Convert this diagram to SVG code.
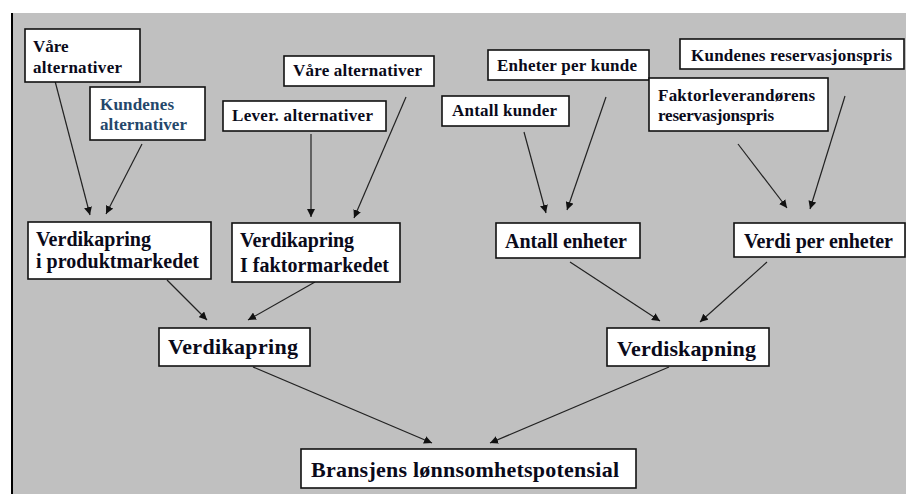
<svg xmlns="http://www.w3.org/2000/svg" width="906" height="494" viewBox="0 0 906 494">
<style>
.box{fill:#fff;stroke:#111;stroke-width:1.6}
.t{font-family:"Liberation Serif","Times New Roman",serif;font-weight:bold;fill:#0a0a1a}
.s{font-size:17px}
.m{font-size:20px}
.l{font-size:22px}
.blue{fill:#24476b}
.c line{stroke:#222;stroke-width:1.2;marker-end:url(#ah)}
</style>
<defs>
<marker id="ah" markerUnits="userSpaceOnUse" markerWidth="9" markerHeight="8" refX="8" refY="4" orient="auto">
<path d="M0,0 L8,4 L0,8 Z" fill="#111"/>
</marker>
</defs>
<rect x="0" y="0" width="906" height="494" fill="#fff"/>
<rect x="12" y="13" width="894" height="481" fill="#c0c0c0"/>
<line x1="12" y1="13" x2="12" y2="494" stroke="#000" stroke-width="2"/>

<g class="c" id="connectors">
<line x1="55" y1="81" x2="90" y2="215"/>
<line x1="142" y1="144" x2="106" y2="214"/>
<line x1="311" y1="134" x2="311" y2="217"/>
<line x1="406" y1="97" x2="354" y2="218"/>
<line x1="524" y1="132" x2="546" y2="213"/>
<line x1="606" y1="97" x2="567" y2="210"/>
<line x1="738" y1="144" x2="787" y2="208"/>
<line x1="845" y1="96" x2="810" y2="209"/>
<line x1="167" y1="280" x2="207" y2="320"/>
<line x1="315" y1="282" x2="248" y2="320"/>
<line x1="570" y1="262" x2="660" y2="321"/>
<line x1="767" y1="262" x2="700" y2="322"/>
<line x1="253" y1="367" x2="432" y2="443"/>
<line x1="669" y1="367" x2="490" y2="443"/>
</g>

<g id="n-vare1"><rect class="box" x="25" y="29" width="115" height="53"/>
<text class="t s" x="33" y="52">Våre</text><text class="t s" x="33" y="73" textLength="89">alternativer</text></g>

<g id="n-kundenes"><rect class="box" x="90" y="87" width="115" height="53"/>
<text class="t s blue" x="100" y="110" textLength="74">Kundenes</text><text class="t s blue" x="100" y="130" textLength="87">alternativer</text></g>

<g id="n-vare2"><rect class="box" x="284" y="56" width="150" height="30"/>
<text class="t s" x="293" y="76" textLength="129">Våre alternativer</text></g>

<g id="n-lever"><rect class="box" x="223" y="101" width="163" height="30"/>
<text class="t s" x="232" y="121" textLength="141">Lever. alternativer</text></g>

<g id="n-vkprodukt"><rect class="box" x="28" y="222" width="183" height="57"/>
<text class="t m" x="36" y="246" textLength="115">Verdikapring</text><text class="t m" x="36" y="268" textLength="163">i produktmarkedet</text></g>

<g id="n-vkfaktor"><rect class="box" x="232" y="223" width="168" height="59"/>
<text class="t m" x="240" y="247" textLength="114">Verdikapring</text><text class="t m" x="240" y="272" textLength="149">I faktormarkedet</text></g>

<g id="n-verdikapring"><rect class="box" x="159" y="328" width="151" height="38"/>
<text class="t l" x="168" y="354" textLength="130">Verdikapring</text></g>

<g id="n-antallkunder"><rect class="box" x="442" y="96" width="127" height="30"/>
<text class="t s" x="452" y="116" textLength="105">Antall kunder</text></g>

<g id="n-enheterperkunde"><rect class="box" x="488" y="50" width="161" height="30"/>
<text class="t s" x="497" y="71" textLength="140">Enheter per kunde</text></g>

<g id="n-kundenesres"><rect class="box" x="680" y="39" width="224" height="30"/>
<text class="t s" x="691" y="61" textLength="201">Kundenes reservasjonspris</text></g>

<g id="n-faktorlev"><rect class="box" x="649" y="78" width="179" height="53"/>
<text class="t s" x="658" y="101" textLength="157">Faktorleverandørens</text><text class="t s" x="658" y="121" textLength="116">reservasjonspris</text></g>

<g id="n-antallenheter"><rect class="box" x="496" y="223" width="144" height="35"/>
<text class="t m" x="505" y="248" textLength="122">Antall enheter</text></g>

<g id="n-verdiperenheter"><rect class="box" x="734" y="223" width="171" height="34"/>
<text class="t m" x="744" y="248" textLength="149">Verdi per enheter</text></g>

<g id="n-verdiskapning"><rect class="box" x="607" y="328" width="162" height="38"/>
<text class="t l" x="617" y="356" textLength="139">Verdiskapning</text></g>

<g id="n-bransjens"><rect class="box" x="301" y="449" width="335" height="39"/>
<text class="t l" x="311" y="477" textLength="308">Bransjens lønnsomhetspotensial</text></g>
</svg>
